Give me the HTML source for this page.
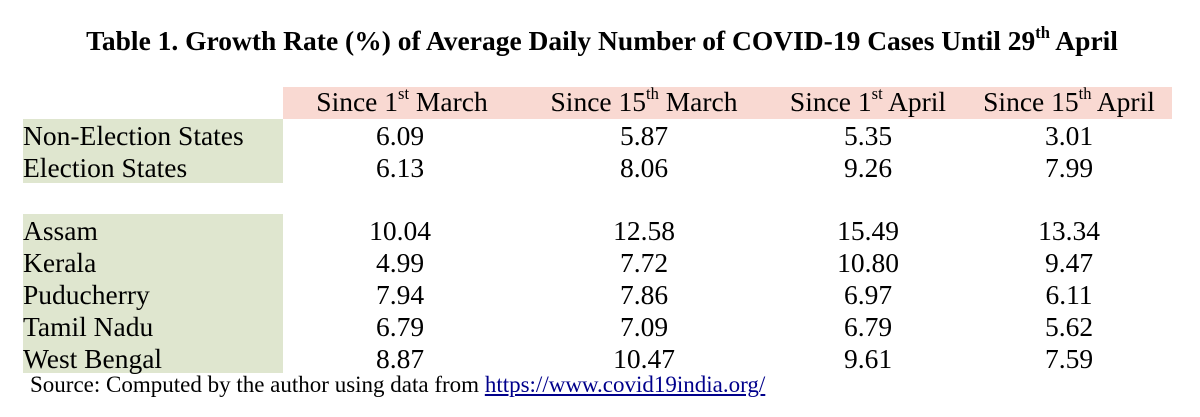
<!DOCTYPE html>
<html><head><meta charset="utf-8"><style>
body{margin:0;width:1200px;height:417px;background:#fff;position:relative;overflow:hidden;font-family:"Liberation Serif",serif;color:#000}
.a{position:absolute;white-space:nowrap}
.t{left:0;width:1204px;text-align:center;top:25px;font-weight:bold;font-size:27.5px}
.pink{left:283px;top:87px;width:889px;height:32px;background:#f9d9d2}
.g{left:23px;width:260px;background:#dfe6cf}
.h{font-size:27.5px;top:86px;transform:translateX(-50%)}
.r{font-size:27.5px;line-height:32px}
.v{font-size:27.5px;line-height:32px;transform:translateX(-50%)}
sup{font-size:60%;vertical-align:top;position:relative;top:-2px}
.src{left:30px;top:372px;font-size:23px}
a{color:#00008b}
</style></head><body>
<div class="a t">Table 1. Growth Rate (%) of Average Daily Number of COVID-19 Cases Until 29<sup>th</sup> April</div>
<div class="a pink"></div>
<div class="a g" style="top:119px;height:64px"></div>
<div class="a g" style="top:214px;height:159px"></div>
<div class="a h" style="left:402px">Since 1<sup>st</sup> March</div>
<div class="a h" style="left:644px">Since 15<sup>th</sup> March</div>
<div class="a h" style="left:868px">Since 1<sup>st</sup> April</div>
<div class="a h" style="left:1069px">Since 15<sup>th</sup> April</div>

<div class="a r" style="left:23px;top:120px">Non-Election States</div>
<div class="a r" style="left:23px;top:152px">Election States</div>
<div class="a r" style="left:23px;top:215px">Assam</div>
<div class="a r" style="left:23px;top:247px">Kerala</div>
<div class="a r" style="left:23px;top:279px">Puducherry</div>
<div class="a r" style="left:23px;top:311px">Tamil Nadu</div>
<div class="a r" style="left:23px;top:343px">West Bengal</div>

<div class="a v" style="left:400px;top:120px">6.09</div><div class="a v" style="left:644px;top:120px">5.87</div><div class="a v" style="left:868px;top:120px">5.35</div><div class="a v" style="left:1069px;top:120px">3.01</div>
<div class="a v" style="left:400px;top:152px">6.13</div><div class="a v" style="left:644px;top:152px">8.06</div><div class="a v" style="left:868px;top:152px">9.26</div><div class="a v" style="left:1069px;top:152px">7.99</div>
<div class="a v" style="left:400px;top:215px">10.04</div><div class="a v" style="left:644px;top:215px">12.58</div><div class="a v" style="left:868px;top:215px">15.49</div><div class="a v" style="left:1069px;top:215px">13.34</div>
<div class="a v" style="left:400px;top:247px">4.99</div><div class="a v" style="left:644px;top:247px">7.72</div><div class="a v" style="left:868px;top:247px">10.80</div><div class="a v" style="left:1069px;top:247px">9.47</div>
<div class="a v" style="left:400px;top:279px">7.94</div><div class="a v" style="left:644px;top:279px">7.86</div><div class="a v" style="left:868px;top:279px">6.97</div><div class="a v" style="left:1069px;top:279px">6.11</div>
<div class="a v" style="left:400px;top:311px">6.79</div><div class="a v" style="left:644px;top:311px">7.09</div><div class="a v" style="left:868px;top:311px">6.79</div><div class="a v" style="left:1069px;top:311px">5.62</div>
<div class="a v" style="left:400px;top:343px">8.87</div><div class="a v" style="left:644px;top:343px">10.47</div><div class="a v" style="left:868px;top:343px">9.61</div><div class="a v" style="left:1069px;top:343px">7.59</div>

<div class="a src">Source: Computed by the author using data from <a style="text-decoration:underline">https://www.covid19india.org/</a></div>
</body></html>
